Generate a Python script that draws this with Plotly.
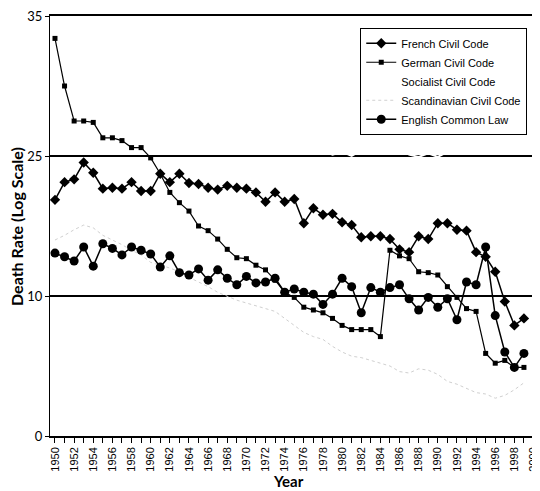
import numpy as np
import plotly.graph_objects as go

years = list(range(1950, 2000))

french = [20.3, 22.2, 22.5, 24.3, 23.2, 21.5, 21.6, 21.5, 22.2, 21.25,
          21.25, 23.1, 22.2, 23.1, 22.1, 22.0, 21.6, 21.4, 21.8, 21.6,
          21.5, 21.1, 20.1, 21.1, 20.1, 20.4, 17.8, 19.4, 18.7, 18.8,
          17.9, 17.6, 16.3, 16.4, 16.4, 16.1, 15.0, 14.7, 16.4, 16.1,
          17.8, 17.8, 17.1, 17.0, 14.7, 14.2, 12.6, 9.6, 7.9, 8.4]

german = [33.4, 30.0, 27.5, 27.5, 27.4, 26.3, 26.3, 26.1, 25.6, 25.6,
          24.8, 23.1, 21.1, 20.0, 19.1, 17.5, 17.0, 16.1, 15.0, 14.1,
          14.0, 13.3, 12.8, 11.7, 10.4, 9.9, 9.2, 9.0, 8.8, 8.4,
          7.9, 7.6, 7.6, 7.6, 7.1, 14.9, 14.3, 14.0, 12.6, 12.5,
          12.25, 11.0, 9.9, 9.1, 8.9, 5.9, 5.2, 5.4, 4.9, 4.9]

socialist = [35.2, 34.8, 35.3, 34.9, 35.2, 34.8, 35.3, 34.9, 35.1, 34.8,
             35.2, 34.9, 35.3, 34.8, 35.1, 34.9, 35.2, 34.8, 35.3, 34.9,
             35.1, 34.8, 35.2, 34.9, 35.3, 34.8, 35.1, 34.9, 25.4, 25.1,
             25.3, 25.0, 25.4, 25.2, 25.5, 25.3, 25.6, 25.1, 24.9, 25.2,
             24.9, 25.3, 25.6, 25.8, 25.9, 26.0, 25.8, 25.7, 25.9, 26.0]

scandinavian = [16.0, 16.5, 17.1, 17.6, 17.3, 16.5, 16.0, 15.5, 14.9, 14.4,
                13.6, 13.3, 13.0, 12.6, 12.0, 11.5, 11.0, 10.4, 10.0, 9.7,
                9.5, 9.3, 9.1, 8.9, 8.4, 7.9, 7.4, 7.1, 6.9, 6.4,
                6.0, 5.7, 5.6, 5.4, 5.2, 5.0, 4.6, 4.5, 4.8, 4.7,
                4.4, 3.9, 3.7, 3.4, 3.1, 3.0, 2.7, 2.9, 3.3, 3.8]

english = [14.6, 14.2, 13.75, 15.25, 13.2, 15.6, 15.1, 14.4, 15.25, 14.9,
           14.5, 13.1, 14.3, 12.5, 12.25, 12.9, 11.7, 12.8, 11.9, 11.2,
           12.1, 11.4, 11.5, 11.9, 10.4, 10.75, 10.4, 10.2, 9.4, 10.2,
           11.9, 11.0, 8.8, 10.9, 10.4, 10.9, 11.2, 9.8, 9.0, 9.9,
           9.2, 9.8, 8.3, 11.5, 11.2, 15.25, 8.6, 6.0, 4.9, 5.9]

y_tick_labels = [0, 10, 25, 35]
x_tick_years = list(range(1950, 2001, 2))

# the printed axis places its labels evenly; map rates onto that scale
tick_pos = list(range(len(y_tick_labels)))


def to_axis(vals):
    return np.interp(vals, y_tick_labels, tick_pos)


fig = go.Figure()

fig.add_trace(go.Scatter(x=years, y=to_axis(socialist), mode="lines",
                         name="Socialist Civil Code", legendrank=3,
                         line=dict(color="white", width=2)))
fig.add_trace(go.Scatter(x=years, y=to_axis(scandinavian), mode="lines",
                         name="Scandinavian Civil Code", legendrank=4,
                         line=dict(color="#d0d0d0", width=1, dash="dot")))
fig.add_trace(go.Scatter(x=years, y=to_axis(french), mode="lines+markers",
                         name="French Civil Code", legendrank=1,
                         line=dict(color="black", width=1.5),
                         marker=dict(symbol="diamond", size=8, color="black")))
fig.add_trace(go.Scatter(x=years, y=to_axis(german), mode="lines+markers",
                         name="German Civil Code", legendrank=2,
                         line=dict(color="black", width=1.2),
                         marker=dict(symbol="square", size=5, color="black")))
fig.add_trace(go.Scatter(x=years, y=to_axis(english), mode="lines+markers",
                         name="English Common Law", legendrank=5,
                         line=dict(color="black", width=1.5),
                         marker=dict(symbol="circle", size=9, color="black")))

narrow = "Liberation Sans Narrow, Liberation Sans, Arial"

fig.update_layout(
    width=532, height=483,
    margin=dict(l=42, r=4, t=8, b=55),
    paper_bgcolor="white", plot_bgcolor="white",
    showlegend=True,
    legend=dict(
        x=0.982, y=0.972, xanchor="right", yanchor="top",
        bgcolor="white", bordercolor="black", borderwidth=1,
        font=dict(family=narrow, size=11, color="black"),
        itemwidth=30, tracegroupgap=0,
    ),
    xaxis=dict(
        range=[1949.48, 2000.26], automargin=False,
        tickmode="array", tickvals=x_tick_years,
        ticktext=[str(v) for v in x_tick_years],
        tickangle=-90, ticks="outside", ticklen=5, tickwidth=1, tickcolor="black",
        minor=dict(dtick=1, tick0=1950, ticks="outside", ticklen=5, tickcolor="black", showgrid=False),
        showline=True, linecolor="black", linewidth=1.5, mirror=True,
        showgrid=False, zeroline=False, ticklabeloverflow="allow",
        tickfont=dict(family=narrow, size=11, color="black"),
    ),
    yaxis=dict(
        range=[0, 3], automargin=False,
        tickmode="array", tickvals=tick_pos,
        ticktext=[str(v) for v in y_tick_labels],
        ticks="outside", ticklen=4, tickcolor="black",
        showline=True, linecolor="black", linewidth=1,
        showgrid=True, gridcolor="black", gridwidth=2, zeroline=False,
        ticklabeloverflow="allow",
        tickfont=dict(family="Lato, DejaVu Sans", size=13, color="black"),
    ),
    annotations=[
        dict(text="<b>Year</b>", xref="paper", yref="paper", x=0.49, y=-0.107,
             xanchor="center", yanchor="middle", showarrow=False,
             font=dict(family="Lato, DejaVu Sans", size=15, color="black")),
        dict(text="<b>Death Rate (Log Scale)</b>", xref="paper", yref="paper",
             x=-0.07, y=0.5, xanchor="center", yanchor="middle", textangle=-90,
             showarrow=False, font=dict(family="Lato, DejaVu Sans", size=16, color="black")),
    ],
    shapes=[dict(type="line", xref="paper", yref="paper", x0=1, x1=1, y0=0, y1=1,
                 line=dict(color="#888888", width=1))],
)

fig.write_html("out.html")
